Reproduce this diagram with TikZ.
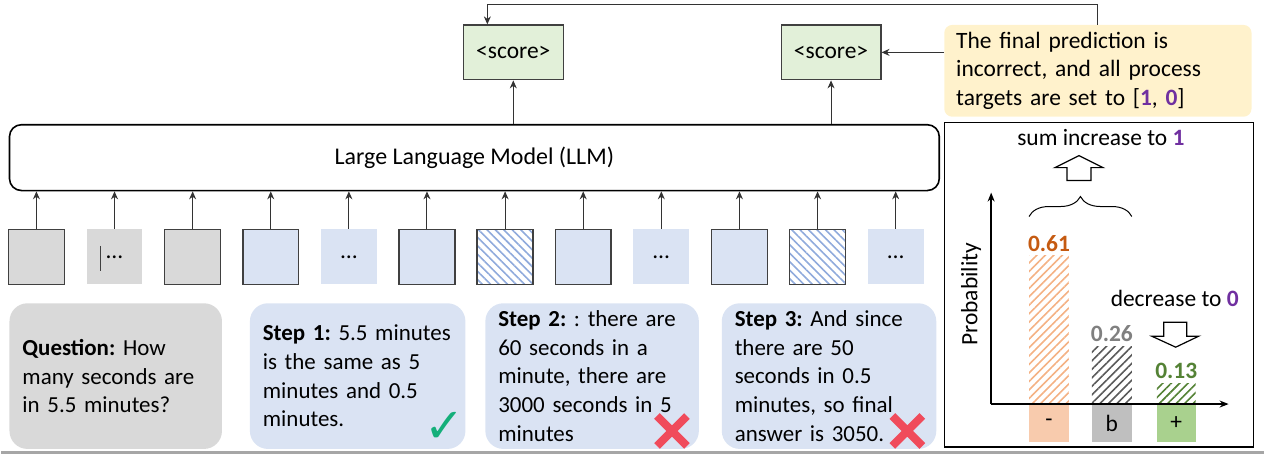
\documentclass[tikz,border=0pt]{standalone}
\usepackage{fontspec}
\setmainfont{Carlito}
\newfontfamily\symfont{DejaVu Sans}
\usetikzlibrary{arrows.meta,patterns.meta,decorations.pathreplacing}
\frenchspacing
\newcommand\nohyph{\hyphenpenalty=10000 \exhyphenpenalty=10000 }
\definecolor{edge}{HTML}{404040}
\definecolor{tokgray}{HTML}{D9D9D9}
\definecolor{tokblue}{HTML}{DAE3F3}
\definecolor{hatblue}{HTML}{8FAADC}
\definecolor{scoregreen}{HTML}{E2F0D9}
\definecolor{noteyellow}{HTML}{FFF2CC}
\definecolor{purp}{HTML}{7030A0}
\definecolor{okgreen}{RGB}{20,175,122}
\definecolor{badred}{HTML}{F04B5B}
\definecolor{minusline}{HTML}{F4B183}
\definecolor{minustext}{HTML}{C55A11}
\definecolor{minusbox}{HTML}{F8CBAD}
\definecolor{blankline}{HTML}{595959}
\definecolor{blanktext}{HTML}{808080}
\definecolor{blankbox}{HTML}{BFBFBF}
\definecolor{plusline}{HTML}{548235}
\definecolor{plustext}{HTML}{548235}
\definecolor{plusbox}{HTML}{A9D18E}

\begin{document}
\begin{tikzpicture}
      [x=1pt,y=-1pt
      ,font=\fontsize{23.5}{28.7}\selectfont
      ,arr/.style={-{Stealth[length=8pt,width=7pt]},line width=1pt,color=black!80}
      ,tok/.style={draw=edge,line width=1.4pt,minimum width=56pt,minimum height=55pt,inner sep=0}
      ,tokg/.style={tok,fill=tokgray}
      ,tokb/.style={tok,fill=tokblue}
      ,tokh/.style={tok,fill=white,pattern={Lines[angle=-45,distance=6pt,line width=1.6pt]},pattern color=hatblue}
      ,dotg/.style={tok,draw=none,fill=tokgray}
      ,dotb/.style={tok,draw=none,fill=tokblue}
      ,scorebox/.style={draw=edge,line width=1.2pt,fill=scoregreen,minimum width=100pt,minimum height=55pt}
      ,textbox/.style={rounded corners=18pt,minimum height=146pt,inner xsep=13pt,align=left,
                       font=\fontsize{23}{28.7}\selectfont\nohyph}
      ,bar/.style={pattern={Lines[angle=45,distance=6pt,line width=1.6pt]}}
      ,val/.style={anchor=south,inner sep=4pt,font=\fontsize{23.5}{26}\selectfont\bfseries}
      ,lbl/.style={minimum width=40pt,minimum height=38pt,inner sep=0}
      ,hollow/.style={draw=black,line width=1.2pt,fill=white,line join=miter}
      ,bad/.style={color=badred,line width=8pt}]
        \node[draw=black,line width=1.6pt,rounded corners=12pt,minimum width=932pt,minimum height=66pt,
              font=\fontsize{24}{26}\selectfont]
              (llm) at (474,158) {Large Language Model (LLM)};
        \node[scorebox] (s1) at (513,52.5) {<score>};
        \node[scorebox] (s2) at (831.5,52.5) {<score>};
        \node[fill=noteyellow,rounded corners=8pt,minimum width=308pt,minimum height=92pt,
              text width=284pt,align=left,inner xsep=12pt] (note) at (1099,71)
              {The final prediction is\\incorrect, and all process\\targets are set to
               [\textcolor{purp}{\textbf{1}}, \textcolor{purp}{\textbf{0}}]};
        \draw[arr] (s1.south |- llm.north) -- (s1.south);
        \draw[arr] (s2.south |- llm.north) -- (s2.south);
        \draw[arr] (note.west |- s2.east) -- (s2.east);
        \coordinate (fb) at ([xshift=-26pt]s1.north);
        \draw[arr] (note.north) -- ++(0,-20) -| (fb);
        \foreach \s/\t [count=\i] in {tokg/,dotg/\ldots,tokg/,tokb/,dotb/\ldots,tokb/,
                                      tokh/,tokb/,dotb/\ldots,tokb/,tokh/,dotb/\ldots}{
          \node[\s] (t\i) at ({35+78.3*(\i-1)},257.5) {\t};
          \draw[arr] (t\i.north) -- (t\i.north |- llm.south);
        }
        \draw[edge,line width=1.5pt] (t2.center) ++(-14,-11) -- ++(0,25);
        \node[textbox,fill=tokgray,minimum width=213pt,text width=187pt] (q) at (114.5,377)
              {\textbf{Question:} How\\many seconds are\\in 5.5 minutes?};
        \node[textbox,fill=tokblue,minimum width=216pt,text width=190pt] (p1) at (357,377)
              {\textbf{Step 1:} 5.5 minutes\\is the same as 5\\minutes and 0.5\\minutes.};
        \node[textbox,fill=tokblue,minimum width=214pt,text width=188pt] (p2) at (592,377)
              {\textbf{Step 2:} : there are\\60 seconds in a\\minute, there are\\3000 seconds in 5\\minutes};
        \node[textbox,fill=tokblue,minimum width=215pt,text width=189pt] (p3) at (829.5,377)
              {\textbf{Step 3:} And since\\there are 50\\seconds in 0.5\\minutes, so final\\answer is 3050.};
        \node[text=okgreen,font=\symfont\fontsize{48}{48}\selectfont,inner sep=0] (ok) at (444,428) {✓};
        \draw[bad] (672,432) +(-15,-15) -- +(15,15) +(-15,15) -- +(15,-15);
        \draw[bad] (908,432) +(-15,-15) -- +(15,15) +(-15,15) -- +(15,-15);
        \draw[line width=1.2pt] (945,123) rectangle (1255,448);
        \draw[black!35,line width=3pt] (0,453.5) -- (1265,453.5);
        \coordinate (o) at (992,405);
        \draw[-{Stealth[length=9pt,width=7pt]},line width=1.5pt] (o) -- (992,193);
        \node[rotate=90] (ylab) at (972,295) {Probability};
        \foreach \x/\top/\w/\c/\v/\l [count=\i] in {1030/256/40/minus/0.61/-,
                                                    1093/347/40/blank/0.26/b,
                                                    1158/384/39/plus/0.13/+}{
          \fill[bar,pattern color=\c line] (\x,\top) rectangle (\x+\w,405);
          \node[val,text=\c text] (v\i) at (\x+\w/2,\top) {\v};
          \node[lbl,fill=\c box,minimum width=\w pt] (b\i) at (\x+\w/2,424) {\l};
        }
        \draw[-{Stealth[length=9pt,width=7pt]},line width=1.5pt] (o) -- (1230,405);
        \draw[decorate,decoration={brace,amplitude=20pt},line width=1pt] (1030,217) -- (1133,217);
        \draw[hollow] (1068,181) -- (1068,168) -- (1056,168) -- (1080,156)
                      -- (1104,168) -- (1092,168) -- (1092,181) -- cycle;
        \draw[hollow] (1165,323) -- (1188,323) -- (1188,337) -- (1200,337)
                      -- (1177,348) -- (1153,337) -- (1165,337) -- cycle;
        \node (up) at (1102,138) {sum increase to \textcolor{purp}{\textbf{1}}};
        \node (down) at (1176,299) {decrease to \textcolor{purp}{\textbf{0}}};
        \useasboundingbox (0,0) rectangle (1265,455);
      \end{tikzpicture}
\end{document}
